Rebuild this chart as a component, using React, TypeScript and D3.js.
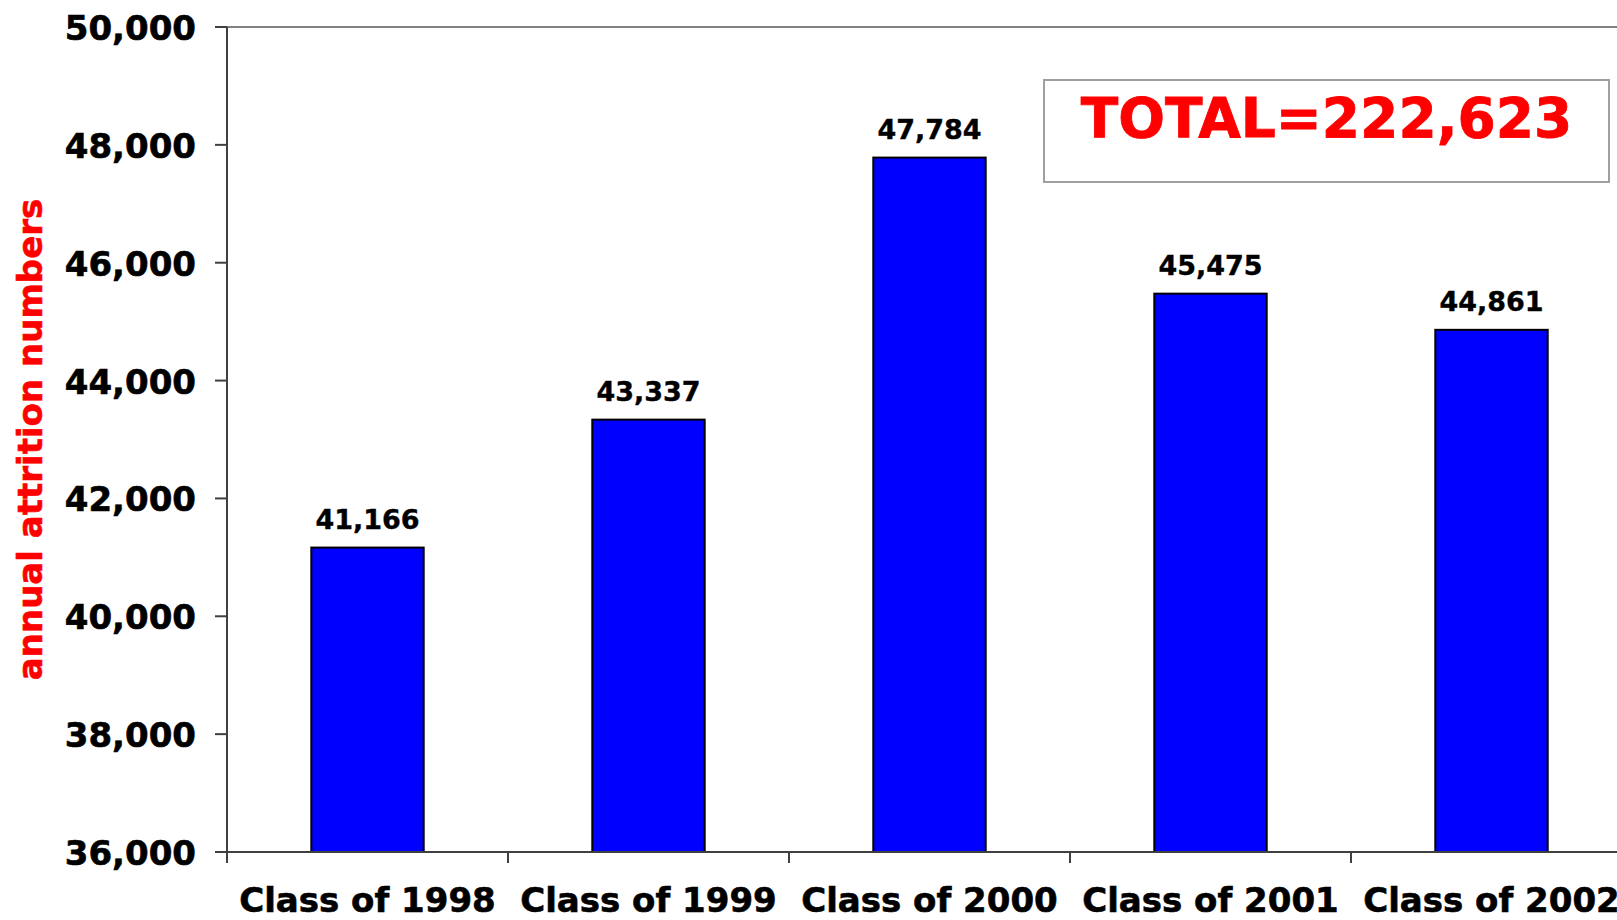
import * as d3 from "d3";

const categories = ["Class of 1998", "Class of 1999", "Class of 2000", "Class of 2001", "Class of 2002"];
const values = [41166, 43337, 47784, 45475, 44861];
const yTicks = [36000, 38000, 40000, 42000, 44000, 46000, 48000, 50000];
const totalLabel = "TOTAL=222,623";
const yTitle = "annual attrition numbers";

const font = "'DejaVu Sans', Verdana, sans-serif";
const fmt = d3.format(",");

export default function App() {
  const width = 1617;
  const height = 920;
  const left = 227;
  const step = 281;
  const top = 27;
  const bottom = 852;

  const x = d3
    .scaleBand()
    .domain(categories)
    .range([left, left + step * categories.length])
    .paddingInner(0.6)
    .paddingOuter(0.3);
  const y = d3.scaleLinear().domain([36000, 50000]).range([bottom, top]);
  const right = left + step * categories.length;

  return (
    <svg
      width={width}
      height={height}
      viewBox={`0 0 ${width} ${height}`}
      style={{ position: "absolute", left: 0, top: 0, background: "#fff", fontFamily: font, fontWeight: "bold" }}
    >
      <rect width={width} height={height} fill="#fff" />
      {/* plot frame */}
      <line x1={left} x2={right} y1={top} y2={top} stroke="#808080" strokeWidth={2} />
      <line x1={right} x2={right} y1={top} y2={bottom} stroke="#808080" strokeWidth={2} />

      {yTicks.map((t) => (
        <g key={t}>
          <line x1={left - 12} x2={left} y1={y(t)} y2={y(t)} stroke="#404040" strokeWidth={2} />
          <text x={196} y={y(t) + 13} textAnchor="end" fontSize={34} fill="#000" stroke="#000" strokeWidth={0.6}>
            {fmt(t)}
          </text>
        </g>
      ))}

      {categories.map((c, i) => (
        <line key={c} x1={left + (i + 1) * step} x2={left + (i + 1) * step} y1={bottom} y2={bottom + 11} stroke="#404040" strokeWidth={2} />
      ))}
      <line x1={left} x2={left} y1={bottom} y2={bottom + 11} stroke="#404040" strokeWidth={2} />

      {categories.map((c, i) => {
        const bx = x(c) ?? 0;
        const v = values[i];
        return (
          <g key={c}>
            <rect x={bx} y={y(v)} width={x.bandwidth()} height={bottom - y(v)} fill="#0000ff" stroke="#000" strokeWidth={2} />
            <text x={bx + x.bandwidth() / 2} y={y(v) - 19} textAnchor="middle" fontSize={27} fill="#000" stroke="#000" strokeWidth={0.4}>
              {fmt(v)}
            </text>
            <text x={bx + x.bandwidth() / 2} y={912} textAnchor="middle" fontSize={34} fill="#000" stroke="#000" strokeWidth={0.6}>
              {c}
            </text>
          </g>
        );
      })}

      <line x1={left} x2={left} y1={top} y2={bottom} stroke="#404040" strokeWidth={2} />
      <line x1={left} x2={right} y1={bottom} y2={bottom} stroke="#404040" strokeWidth={2} />

      <text transform={`translate(42, ${(top + bottom) / 2}) rotate(-90)`} textAnchor="middle" fontSize={34} fill="#ff0000" stroke="#ff0000" strokeWidth={0.6}>
        {yTitle}
      </text>

      <rect x={1044} y={80} width={565} height={102} fill="#fff" stroke="#a0a0a0" strokeWidth={2} />
      <text x={1326.5} y={137} textAnchor="middle" fontSize={55} fill="#ff0000" stroke="#ff0000" strokeWidth={0.8}>
        {totalLabel}
      </text>
    </svg>
  );
}
